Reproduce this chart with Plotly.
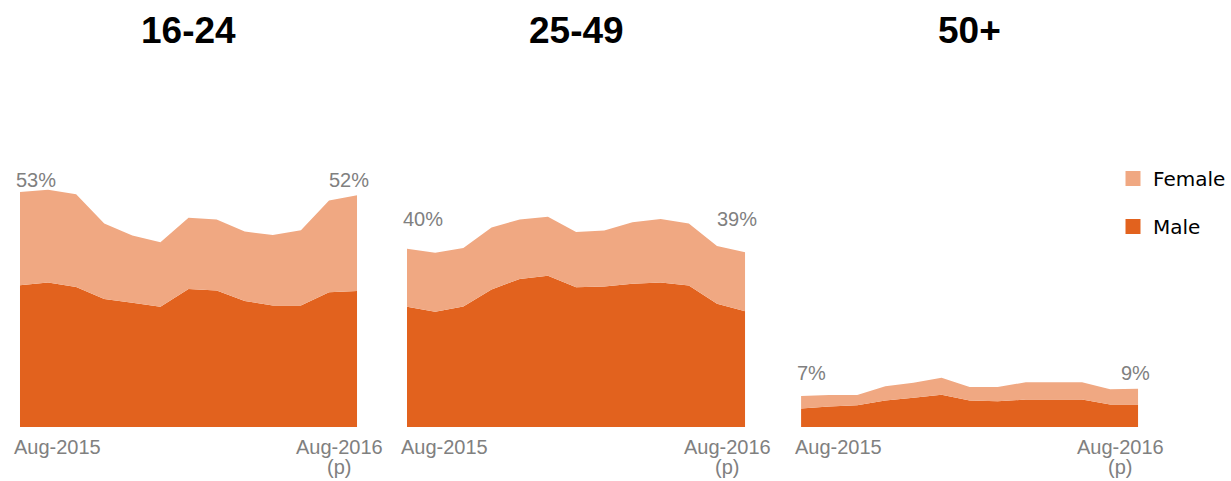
import plotly.graph_objects as go

months = ["Aug-2015", "Sep-2015", "Oct-2015", "Nov-2015", "Dec-2015", "Jan-2016",
          "Feb-2016", "Mar-2016", "Apr-2016", "May-2016", "Jun-2016", "Jul-2016", "Aug-2016"]
groups = ["16-24", "25-49", "50+"]

male_16_24 = [32.0, 32.6, 31.6, 28.9, 28.0, 27.1, 31.1, 30.8, 28.4, 27.4, 27.4, 30.4, 30.7]
female_16_24 = [21.0, 20.9, 20.9, 17.0, 15.2, 14.6, 16.1, 16.0, 15.7, 15.9, 17.0, 20.7, 21.6]

male_25_49 = [27.1, 26.0, 27.2, 31.0, 33.4, 34.1, 31.5, 31.7, 32.3, 32.6, 31.9, 27.8, 26.1]
female_25_49 = [13.1, 13.3, 13.2, 14.0, 13.4, 13.3, 12.5, 12.6, 13.9, 14.3, 14.0, 13.0, 13.3]

male_50 = [4.2, 4.6, 4.9, 6.0, 6.6, 7.3, 6.0, 5.8, 6.2, 6.2, 6.2, 5.1, 5.1]
female_50 = [2.8, 2.6, 2.3, 3.2, 3.4, 3.8, 3.0, 3.2, 3.9, 3.9, 3.9, 3.4, 3.5]

males = [male_16_24, male_25_49, male_50]
females = [female_16_24, female_25_49, female_50]

MALE_C = "#E2621E"
FEMALE_C = "#F0A882"
GREY = "#808080"

W, H = 1231, 481
panels_px = [(20, 358), (408, 747), (803, 1141)]
base_px, top_px = 427, 161.0
y_max = 60

def px(x):
    return x / W

def py(y):
    return (H - y) / H

fig = go.Figure()
for i in range(3):
    sfx = "" if i == 0 else str(i + 1)
    fig.add_trace(go.Scatter(x=months, y=males[i], stackgroup=f"g{i}", mode="none",
                             fillcolor=MALE_C, name="Male", showlegend=False,
                             xaxis="x" + sfx, yaxis="y" + sfx, hoverinfo="x+y+name"))
    fig.add_trace(go.Scatter(x=months, y=females[i], stackgroup=f"g{i}", mode="none",
                             fillcolor=FEMALE_C, name="Female", showlegend=False,
                             xaxis="x" + sfx, yaxis="y" + sfx, hoverinfo="x+y+name"))

# legend entries
fig.add_trace(go.Scatter(x=[None], y=[None], mode="markers", name="Female",
                         marker=dict(symbol="square", size=15, color=FEMALE_C), legendgroup="f"))
fig.add_trace(go.Scatter(x=[None], y=[None], mode="markers", name="Male",
                         marker=dict(symbol="square", size=15, color=MALE_C), legendgroup="m"))

layout = dict(width=W, height=H, margin=dict(l=0, r=0, t=0, b=0),
              plot_bgcolor="white", paper_bgcolor="white",
              font=dict(family="Liberation Sans, Arial", color=GREY))
annotations = []
for i, (l, r) in enumerate(panels_px):
    sfx = "" if i == 0 else str(i + 1)
    layout["xaxis" + sfx] = dict(domain=[px(l), px(r)], range=[0, 12], type="category",
                                 showgrid=False, zeroline=False, showticklabels=False,
                                 showline=False, ticks="", anchor="y" + sfx, fixedrange=True)
    layout["yaxis" + sfx] = dict(domain=[py(base_px), py(top_px)], range=[0, y_max],
                                 showgrid=False, zeroline=False, showticklabels=False,
                                 showline=False, ticks="", anchor="x" + sfx, fixedrange=True)
    # title
    annotations.append(dict(text=f"<b>{groups[i]}</b>", x=px((l + r) / 2), y=py(30),
                            xref="paper", yref="paper", showarrow=False,
                            xanchor="center", yanchor="middle",
                            font=dict(size=37, color="black", family="Liberation Sans, Arial")))
    # start/end value labels
    first_total = males[i][0] + females[i][0]
    last_total = males[i][-1] + females[i][-1]
    lab_y = [180, 219, 373][i]
    annotations.append(dict(text=f"{round(first_total)}%", x=px(l - 6), y=py(lab_y),
                            xref="paper", yref="paper", showarrow=False,
                            xanchor="left", yanchor="middle", font=dict(size=20, color=GREY)))
    annotations.append(dict(text=f"{round(last_total)}%", x=px(r + 14), y=py(lab_y),
                            xref="paper", yref="paper", showarrow=False,
                            xanchor="right", yanchor="middle", font=dict(size=20, color=GREY)))
    # month labels
    annotations.append(dict(text=months[0], x=px(l + 38), y=py(434),
                            xref="paper", yref="paper", showarrow=False,
                            xanchor="center", yanchor="top", font=dict(size=20, color=GREY)))
    annotations.append(dict(text=months[-1], x=px(r - 18), y=py(434),
                            xref="paper", yref="paper", showarrow=False,
                            xanchor="center", yanchor="top", font=dict(size=20, color=GREY)))
    annotations.append(dict(text="(p)", x=px(r - 18), y=py(480),
                            xref="paper", yref="paper", showarrow=False,
                            xanchor="center", yanchor="bottom", font=dict(size=20, color=GREY)))

layout["annotations"] = annotations
layout["legend"] = dict(x=px(1116), y=py(159), xanchor="left", yanchor="top",
                        traceorder="grouped", tracegroupgap=19, itemwidth=30,
                        font=dict(family="DejaVu Sans", size=20, color="black"),
                        bgcolor="rgba(0,0,0,0)")
layout["showlegend"] = True
fig.update_layout(**layout)
fig.write_html("out.html", config={"displayModeBar": False},
               post_script="document.body.style.margin='0';document.body.style.overflow='hidden';")
